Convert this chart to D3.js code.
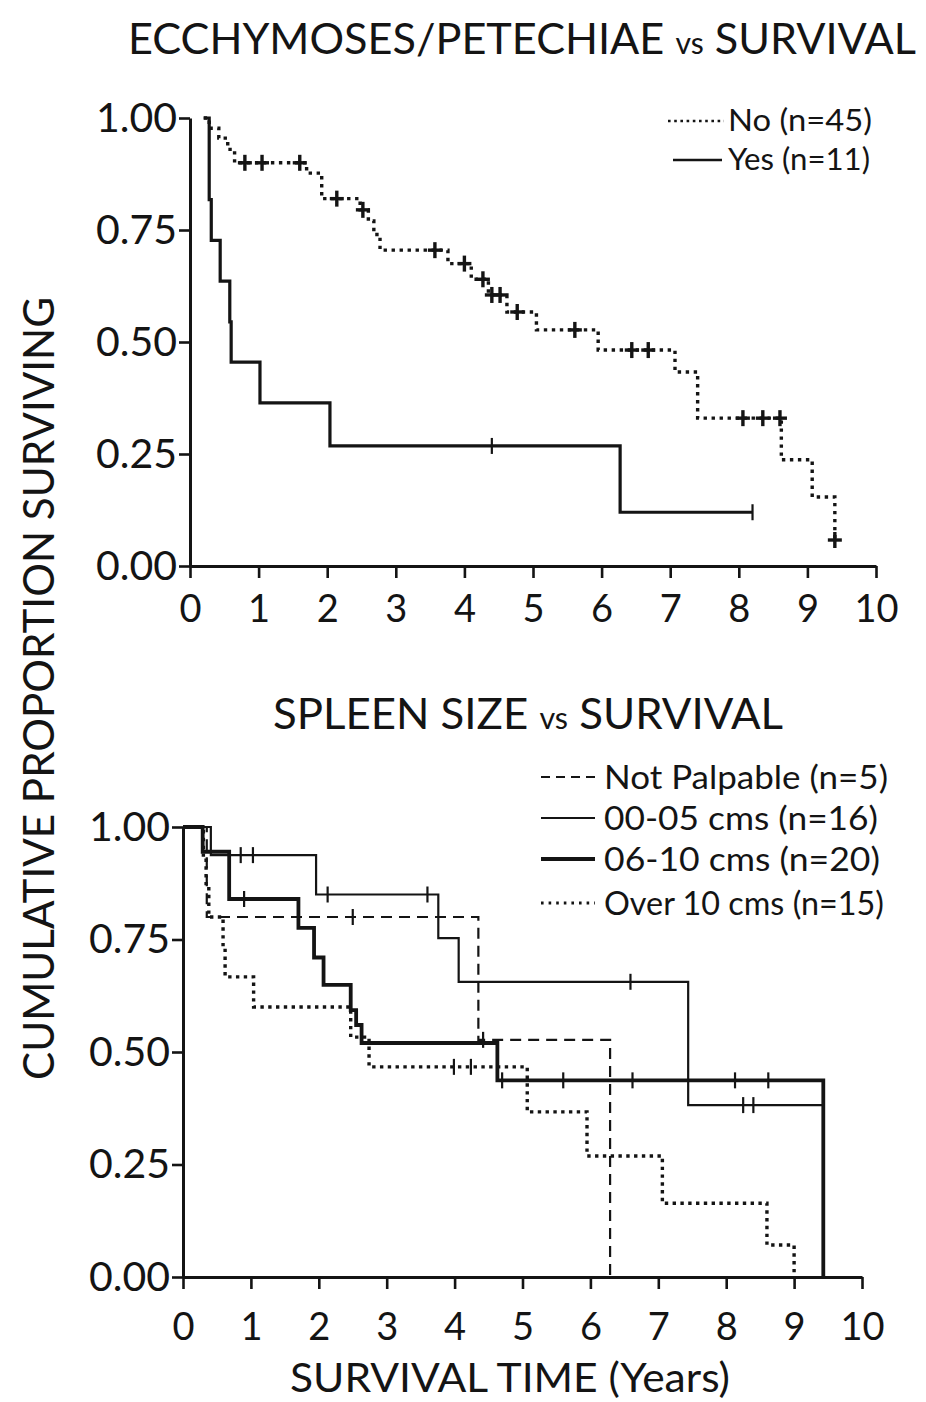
<!DOCTYPE html>
<html><head><meta charset="utf-8">
<script src="https://cdn.jsdelivr.net/npm/d3@7"></script>
<style>body{margin:0;background:#fff}svg{display:block}</style>
</head><body>
<script>
// ---------- DATA ----------
const yTickValues = [0, 0.25, 0.5, 0.75, 1.0];
const xTickValues = [0,1,2,3,4,5,6,7,8,9,10];

// Top panel: Ecchymoses / Petechiae
const noTimes  = [0.2, 0.28, 0.42, 0.55, 0.65, 1.7, 1.92, 2.48, 2.6, 2.68, 2.77, 3.76, 4.1, 4.35, 4.62, 5.05, 5.95, 7.07, 7.4, 8.62, 9.07, 9.4];
const noSurv   = [1.0, 0.977, 0.955, 0.93, 0.90, 0.877, 0.82, 0.795, 0.77, 0.74, 0.705, 0.675, 0.64, 0.605, 0.567, 0.527, 0.482, 0.433, 0.33, 0.237, 0.154, 0.058];
const noEnd    = 9.4;
const noCensor = [0.8, 1.05, 1.6, 2.14, 2.52, 3.57, 4.0, 4.27, 4.4, 4.52, 4.77, 5.61, 6.44, 6.68, 8.06, 8.35, 8.6, 9.4];

const yesTimes  = [0.2, 0.28, 0.31, 0.44, 0.58, 0.6, 1.02, 2.04, 6.27];
const yesSurv   = [1.0, 0.818, 0.727, 0.636, 0.545, 0.455, 0.364, 0.268, 0.12];
const yesEnd    = 8.2;
const yesCensor = [4.4, 8.2];

// Bottom panel: Spleen size
const npTimes  = [0, 0.35, 4.35, 6.29];
const npSurv   = [1.0, 0.8, 0.527, 0];
const npEnd    = 6.29;
const npCensor = [2.5, 4.42];

const s05Times  = [0, 0.41, 1.96, 3.76, 4.06, 7.44];
const s05Surv   = [1.0, 0.9375, 0.85, 0.753, 0.656, 0.382];
const s05End    = 9.43;
const s05Censor = [0.85, 1.03, 2.13, 3.6, 6.59, 8.25, 8.4];

const s10Times  = [0, 0.29, 0.68, 1.7, 1.93, 2.07, 2.47, 2.55, 2.63, 4.63, 9.43];
const s10Surv   = [1.0, 0.945, 0.84, 0.776, 0.71, 0.649, 0.593, 0.56, 0.52, 0.437, 0];
const s10End    = 9.43;
const s10Censor = [0.9, 4.7, 5.6, 6.62, 8.13, 8.62];

const o10Times  = [0, 0.3, 0.34, 0.38, 0.59, 0.62, 1.04, 2.47, 2.74, 5.07, 5.95, 7.06, 8.6, 9.0];
const o10Surv   = [1.0, 0.933, 0.867, 0.8, 0.733, 0.667, 0.6, 0.533, 0.467, 0.367, 0.269, 0.164, 0.071, 0];
const o10End    = 9.0;
const o10Censor = [3.99, 4.24];

const topLegend    = ["No (n=45)", "Yes (n=11)"];
const bottomLegend = ["Not Palpable (n=5)", "00-05 cms (n=16)", "06-10 cms (n=20)", "Over 10 cms (n=15)"];

// ---------- STYLES ----------
const INK = "#141414";
const FONT = "Lato, 'DejaVu Sans', sans-serif";
const styles = {
  dottedTop: {w:3.4, dash:"3.4,4.6"},
  solidTop:  {w:3.2, dash:null},
  dashed:    {w:2.2, dash:"11,7"},
  thin:      {w:2.2, dash:null},
  thick:     {w:3.8, dash:null},
  dotted:    {w:3.4, dash:"3.4,4.4"}
};

const svg = d3.select("body").append("svg").attr("width",926).attr("height",1402)
  .style("background","#fff");

function pts(times, surv, end){
  const p = times.map((t,i)=>[t, surv[i]]);
  p.push([end, surv[surv.length-1]]);
  return p;
}
function survAt(times, surv, t){
  let v = surv[0];
  for (let i=0;i<times.length;i++) if (times[i] <= t + 1e-9) v = surv[i];
  return v;
}

function panel(cfg){
  const x = d3.scaleLinear().domain([0,10]).range([cfg.x0, cfg.x1]);
  const y = d3.scaleLinear().domain([0,1]).range([cfg.y0, cfg.y1]);
  const g = svg.append("g");

  const ya = g.append("g").attr("transform",`translate(${cfg.x0},0)`)
    .call(d3.axisLeft(y).tickValues(yTickValues).tickFormat(d3.format(".2f"))
      .tickSize(11).tickSizeOuter(0).tickPadding(cfg.ypad));
  const xa = g.append("g").attr("transform",`translate(0,${cfg.y0})`)
    .call(d3.axisBottom(x).tickValues(xTickValues).tickFormat(d3.format("d"))
      .tickSize(12).tickSizeOuter(0).tickPadding(cfg.xpad));
  [ya, xa].forEach(a=>{
    a.select(".domain").attr("stroke",INK).attr("stroke-width",3);
    a.selectAll(".tick line").attr("stroke",INK).attr("stroke-width",2.6);
    a.selectAll("text").attr("fill",INK).style("font-family",FONT);
  });
  ya.selectAll("text").style("font-size","41px");
  xa.selectAll("text").style("font-size","38px");

  const line = d3.line().x(d=>x(d[0])).y(d=>y(d[1])).curve(d3.curveStepAfter);
  cfg.series.forEach(s=>{
    const st = styles[s.style];
    g.append("path").datum(pts(s.times, s.surv, s.end))
      .attr("d", line).attr("fill","none").attr("stroke",INK)
      .attr("stroke-width", st.w).attr("stroke-dasharray", st.dash);
    s.censor.forEach(c=>{
      const cx = x(c), cy = y(survAt(s.times, s.surv, c));
      if (s.cross){
        g.append("line").attr("x1",cx-7).attr("x2",cx+7).attr("y1",cy).attr("y2",cy)
          .attr("stroke",INK).attr("stroke-width",3.4);
      }
      g.append("line").attr("x1",cx).attr("x2",cx).attr("y1",cy-8).attr("y2",cy+8)
        .attr("stroke",INK).attr("stroke-width", s.cross ? 3.4 : 2.2);
    });
  });
  return {x, y, g};
}

panel({x0:190, x1:876, y0:566, y1:118, ypad:2, xpad:17, series:[
  {times:noTimes,  surv:noSurv,  end:noEnd,  censor:noCensor,  style:"dottedTop", cross:true},
  {times:yesTimes, surv:yesSurv, end:yesEnd, censor:yesCensor, style:"solidTop",  cross:false}
]});

panel({x0:183, x1:862, y0:1277, y1:827, ypad:2, xpad:24, series:[
  {times:npTimes,  surv:npSurv,  end:npEnd,  censor:npCensor,  style:"dashed"},
  {times:s05Times, surv:s05Surv, end:s05End, censor:s05Censor, style:"thin"},
  {times:s10Times, surv:s10Surv, end:s10End, censor:s10Censor, style:"thick"},
  {times:o10Times, surv:o10Surv, end:o10End, censor:o10Censor, style:"dotted"}
]});

// ---------- TEXT ----------
function title(xs, xe, base, parts){
  const t = svg.append("text").attr("x",xs).attr("y",base).attr("fill",INK)
    .style("font-family",FONT).attr("textLength", xe-xs).attr("lengthAdjust","spacingAndGlyphs");
  parts.forEach(p=> t.append("tspan").style("font-size",p[1]+"px").text(p[0]));
}
title(128, 916, 54, [["ECCHYMOSES/PETECHIAE ",43],["vs",30],[" SURVIVAL",43]]);
title(273, 783, 729, [["SPLEEN SIZE ",43],["vs",30],[" SURVIVAL",43]]);

svg.append("text").attr("transform","translate(54,1080) rotate(-90)")
  .attr("fill",INK).style("font-family",FONT).style("font-size","43px")
  .attr("textLength",783).attr("lengthAdjust","spacingAndGlyphs")
  .text("CUMULATIVE PROPORTION SURVIVING");

svg.append("text").attr("x",290).attr("y",1392).attr("fill",INK)
  .style("font-family",FONT).style("font-size","41px")
  .attr("textLength",440).attr("lengthAdjust","spacingAndGlyphs")
  .text("SURVIVAL TIME (Years)");

// legends
const topLegStyles = ["dottedTop","solidTop"];
const topLegY = [121, 160];
const topLegX = [[668,724],[673,722]];
const topLegTextEnd = [872, 870];
topLegend.forEach((lab,i)=>{
  const st = styles[topLegStyles[i]];
  svg.append("line").attr("x1",topLegX[i][0]).attr("x2",topLegX[i][1])
    .attr("y1",topLegY[i]).attr("y2",topLegY[i]).attr("stroke",INK)
    .attr("stroke-width",st.w*0.8).attr("stroke-dasharray",st.dash ? "2.6,3.6" : null);
  svg.append("text").attr("x",728).attr("y",topLegY[i]+10).attr("fill",INK)
    .style("font-family",FONT).style("font-size","30px")
    .attr("textLength",topLegTextEnd[i]-728).attr("lengthAdjust","spacingAndGlyphs").text(lab);
});

const botLegStyles = ["dashed","thin","thick","dotted"];
const botLegY = [777, 818, 859, 903];
const botLegTextEnd = [888, 878, 880, 884];
bottomLegend.forEach((lab,i)=>{
  svg.append("line").attr("x1",541).attr("x2",595)
    .attr("y1",botLegY[i]).attr("y2",botLegY[i]).attr("stroke",INK)
    .attr("stroke-width", botLegStyles[i]==="thick" ? 3.8 : (botLegStyles[i]==="dotted" ? 3 : 1.8))
    .attr("stroke-dasharray", botLegStyles[i]==="dashed" ? "9,6" : (botLegStyles[i]==="dotted" ? "2.6,5" : null));
  svg.append("text").attr("x",604).attr("y",botLegY[i]+12).attr("fill",INK)
    .style("font-family",FONT).style("font-size","32px")
    .attr("textLength",botLegTextEnd[i]-604).attr("lengthAdjust","spacingAndGlyphs").text(lab);
});
</script>
</body></html>
